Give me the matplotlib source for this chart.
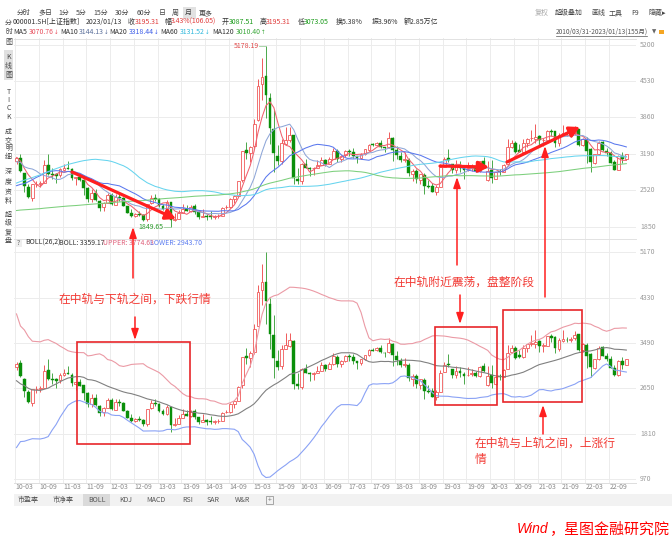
import numpy as np
import pandas as pd
import matplotlib
matplotlib.use('Agg')
import matplotlib.pyplot as plt
from matplotlib.patches import Rectangle, FancyArrowPatch
from matplotlib.transforms import blended_transform_factory as blend

plt.rcParams['font.family'] = ['Noto Sans CJK SC', 'DejaVu Sans']
plt.rcParams['axes.unicode_minus'] = False

# ---------------- data ----------------
# monthly closes before the window (2000-04 .. 2010-02), used only for MA / BOLL warm-up
hist_close = [
    1836, 1894, 1928, 2023, 2015, 1910, 1961, 2070, 2073,
    2066, 1959, 2112, 2120, 2214, 2218, 1920, 1834, 1659, 1690, 1747, 1646,
    1491, 1524, 1603, 1667, 1515, 1732, 1653, 1670, 1581, 1507, 1441, 1357,
    1499, 1511, 1511, 1521, 1576, 1487, 1476, 1421, 1367, 1349, 1397, 1497,
    1590, 1675, 1742, 1595, 1555, 1399, 1386, 1342, 1396, 1320, 1340, 1266,
    1191, 1306, 1181, 1159, 1060, 1080, 1083, 1162, 1155, 1092, 1099, 1161,
    1258, 1299, 1298, 1440, 1641, 1672, 1612, 1658, 1752, 1837, 2099, 2675,
    2786, 2881, 3183, 3841, 4109, 3821, 4471, 5218, 5552, 5954, 4871, 5262,
    4383, 4348, 3473, 3693, 3433, 2736, 2775, 2397, 2293, 1729, 1871, 1821,
    1991, 2082, 2373, 2477, 2633, 2959, 3412, 2668, 2779, 2996, 3195, 3277,
    2989, 3051,
]

# visible window 2010-03 .. 2023-01 (155 months)
opens = [
    3051, 3112, 2830, 2580, 2381, 2636, 2633, 2659, 2986, 2825,
    2825, 2798, 2898, 2933, 2906, 2738, 2764, 2703, 2564, 2360, 2469, 2327,
    2212, 2294, 2434, 2256, 2402, 2371, 2224, 2101, 2050, 2089, 2071, 1983,
    2289, 2385, 2366, 2236, 2171, 2300, 1973, 1994, 2100, 2179, 2136, 2222,
    2113, 2035, 2056, 2039, 2022, 2040, 2046, 2205, 2213, 2362, 2419, 2707,
    3258, 3213, 3332, 3810, 4480, 4629, 4215, 3643, 3158, 3062, 3380, 3442,
    3536, 2728, 2682, 3002, 2938, 2922, 2925, 2978, 3086, 3004, 3101, 3239,
    3105, 3164, 3243, 3227, 3148, 3116, 3192, 3266, 3363, 3361, 3395, 3310,
    3315, 3478, 3258, 3157, 3083, 3084, 2828, 2882, 2710, 2795, 2596, 2608,
    2497, 2588, 2954, 3109, 3005, 2901, 2977, 2922, 2896, 2924, 2931, 2875,
    3066, 2716, 2900, 2736, 2879, 2863, 3010, 3320, 3395, 3262, 3230, 3388,
    3475, 3463, 3519, 3441, 3438, 3612, 3604, 3387, 3532, 3553, 3545, 3576,
    3650, 3355, 3444, 3284, 3028, 3192, 3409, 3246, 3200, 3032, 2896, 3150,
    3087.51,
]
highs = [
    3141, 3181, 2835, 2627, 2639, 2690, 2700, 3074, 3186, 2939,
    2843, 2936, 3000, 3067, 2928, 2773, 2826, 2707, 2578, 2537, 2536, 2341,
    2300, 2478, 2478, 2456, 2453, 2393, 2240, 2182, 2107, 2133, 2090, 2276,
    2434, 2445, 2373, 2266, 2334, 2313, 2093, 2149, 2270, 2243, 2245, 2260,
    2113, 2177, 2087, 2146, 2062, 2080, 2218, 2248, 2370, 2433, 2693, 3239,
    3406, 3344, 3835, 4572, 4959, 5178.19, 4318, 4006, 3358, 3459, 3678, 3684,
    3539, 2934, 3019, 3097, 2955, 2949, 3070, 3141, 3096, 3134, 3301, 3271,
    3174, 3265, 3284, 3295, 3155, 3201, 3276, 3380, 3391, 3418, 3450, 3317,
    3587, 3495, 3334, 3220, 3219, 3115, 2915, 2916, 2827, 2839, 2703, 2652,
    2614, 2997, 3129, 3288, 3007, 3070, 3050, 2948, 3046, 3000, 2966, 3063,
    3127, 3058, 3074, 2863, 2914, 3002, 3458, 3451, 3425, 3365, 3455, 3474,
    3637, 3732, 3545, 3481, 3625, 3655, 3612, 3581, 3723, 3608, 3606, 3708,
    3651, 3490, 3492, 3296, 3194, 3425, 3425, 3297, 3249, 3086, 3178, 3226,
    3195.31,
]
lows = [
    2997, 2863, 2481, 2382, 2319, 2572, 2573, 2659, 2796, 2721,
    2661, 2757, 2870, 2909, 2702, 2610, 2691, 2437, 2307, 2307, 2320, 2134,
    2132, 2277, 2242, 2241, 2331, 2223, 2102, 2025, 2029, 2051, 1959, 1949,
    2264, 2327, 2215, 2161, 2165, 1849.65, 1951, 1991, 2096, 2131, 2118, 2086,
    1984, 2034, 1974, 1991, 1991, 2010, 2042, 2184, 2197, 2292, 2413, 2664,
    3095, 3049, 3292, 3803, 4190, 3848, 3373, 2850, 2983, 3012, 3372, 3412,
    2638, 2638, 2645, 2933, 2781, 2807, 2925, 2977, 2969, 3000, 3087, 3044,
    3045, 3137, 3153, 3108, 3016, 3089, 3176, 3240, 3336, 3340, 3299, 3228,
    3306, 3062, 3091, 3041, 3041, 2783, 2692, 2653, 2645, 2449, 2568, 2483,
    2441, 2585, 2952, 3049, 2837, 2833, 2860, 2733, 2874, 2880, 2859, 2858,
    2956, 2686, 2647, 2720, 2798, 2860, 3009, 3301, 3202, 3216, 3209, 3325,
    3436, 3392, 3329, 3328, 3428, 3517, 3313, 3343, 3517, 3515, 3500, 3546,
    3344, 3332, 3023, 2863, 3006, 3175, 3243, 3155, 3021, 2885, 2885, 3017,
    3073.05,
]
closes = [
    3109, 2870, 2592, 2398, 2638, 2638, 2656, 2979, 2820, 2808,
    2790, 2905, 2928, 2911, 2743, 2762, 2701, 2567, 2359, 2468, 2333, 2199,
    2293, 2428, 2262, 2397, 2373, 2225, 2103, 2047, 2086, 2069, 1980, 2269,
    2385, 2366, 2237, 2178, 2301, 1979, 1994, 2098, 2175, 2141, 2220, 2116,
    2033, 2056, 2033, 2026, 2039, 2048, 2202, 2217, 2364, 2420, 2683, 3235,
    3210, 3310, 3748, 4442, 4612, 4277, 3664, 3206, 3053, 3383, 3445, 3539,
    2738, 2688, 3004, 2938, 2917, 2930, 2979, 3085, 3005, 3100, 3250, 3104,
    3159, 3242, 3223, 3155, 3117, 3192, 3273, 3361, 3349, 3393, 3317, 3307,
    3481, 3259, 3169, 3082, 3095, 2847, 2876, 2725, 2821, 2603, 2588, 2494,
    2585, 2941, 3091, 3078, 2899, 2979, 2933, 2886, 2905, 2929, 2872, 3050,
    2977, 2880, 2750, 2860, 2852, 2985, 3310, 3396, 3218, 3225, 3392, 3473,
    3483, 3509, 3442, 3447, 3615, 3591, 3397, 3544, 3568, 3547, 3564, 3640,
    3361, 3462, 3252, 3047, 3186, 3399, 3253, 3202, 3024, 2893, 3151, 3089,
    3195.31,
]
tick_labels = ['10-03', '10-09', '11-03', '11-09', '12-03', '12-09', '13-03', '13-09',
               '14-03', '14-09', '15-03', '15-09', '16-03', '16-09', '17-03', '17-09',
               '18-03', '18-09', '19-03', '19-09', '20-03', '20-09', '21-03', '21-09',
               '22-03', '22-09']
tick_step = 6
top_ticks = [5200, 4530, 3860, 3190, 2520, 1850]
bot_ticks = [5170, 4330, 3490, 2650, 1810, 970]
ma_periods = [5, 10, 20, 60, 120]
ma_colors = ['#f0606e', '#8ea6d8', '#5a78ee', '#66d4ee', '#7ccf7c']
boll_period, boll_k = 26, 2

# ---------------- indicators ----------------
nh = len(hist_close)
all_close = pd.Series(hist_close + closes, dtype=float)
mas = {p: all_close.rolling(p).mean().values[nh:] for p in ma_periods}
mid = all_close.rolling(boll_period).mean().values[nh:]
sd = all_close.rolling(boll_period).std(ddof=0).values[nh:]
upper = mid + boll_k * sd
lower = mid - boll_k * sd

o = np.array(opens, float); h = np.array(highs, float)
l = np.array(lows, float); c = np.array(closes, float)
n = len(c)
idx = np.arange(n)

# ---------------- figure ----------------
W, H = 672, 539
fig = plt.figure(figsize=(W / 100, H / 100), dpi=100)
fig.patch.set_facecolor('white')

def fx(x): return x / W
def fy(y): return 1 - y / H

PXM = 3.96; X0 = 16.5; AXL, AXR = 14, 636
XLIM = ((AXL - X0) / PXM, (AXR - X0) / PXM)

ax1 = fig.add_axes([fx(AXL), fy(238), (AXR - AXL) / W, 200 / H])
ax2 = fig.add_axes([fx(AXL), fy(483), (AXR - AXL) / W, 245 / H])
ax1.set_ylim(1642, 5323)
ax2.set_ylim(896, 5435)

UP = '#f05a5a'; DN = '#0a8f0a'; DNW = '#4aa84a'
GRID = '#ececec'; LBL = '#9a9a9a'

def draw_candles(ax):
    up = c >= o
    ax.vlines(idx[up], l[up], h[up], color=UP, lw=0.7, zorder=3)
    ax.vlines(idx[~up], l[~up], h[~up], color=DNW, lw=0.7, zorder=3)
    bot = np.minimum(o, c)
    hgt = np.maximum(np.abs(c - o), 6)
    ax.bar(idx[up], hgt[up], bottom=bot[up], width=0.72, facecolor='white',
           edgecolor=UP, lw=0.6, zorder=4)
    ax.bar(idx[~up], hgt[~up], bottom=bot[~up], width=0.72, facecolor=DN,
           edgecolor=DN, lw=0.3, zorder=4)

for ax, ticks in ((ax1, top_ticks), (ax2, bot_ticks)):
    ax.set_xlim(*XLIM)
    ax.axis('off')
    for t in ticks:
        ax.axhline(t, color=GRID, lw=0.7, zorder=0)
        ax.text(1 + 4 / (AXR - AXL), t, str(t), transform=blend(ax.transAxes, ax.transData),
                ha='left', va='center', fontsize=5, color=LBL)
    for k in range(0, n, tick_step):
        ax.axvline(k - 0.38, color=GRID, lw=0.7, zorder=0)
    draw_candles(ax)

# MA lines
for p, col in zip(ma_periods, ma_colors):
    ax1.plot(idx, mas[p], color=col, lw=0.75, zorder=5)

# BOLL
ax2.plot(idx, upper, color='#eb9aa5', lw=0.8, zorder=5)
ax2.plot(idx, mid, color='#808080', lw=0.8, zorder=5)
ax2.plot(idx, lower, color='#8aa2f5', lw=0.8, zorder=5)

# extreme labels
imax = int(np.argmax(h)); imin = int(np.argmin(l))
ax1.plot([imax - 1.7, imax], [h[imax], h[imax]], color='#9ccf9c', lw=0.6, zorder=6)
ax1.text(imax - 1.9, h[imax], f'{h[imax]:.2f}', ha='right', va='center', fontsize=5, color='#e04848')
ax1.plot([imin - 1.7, imin], [l[imin], l[imin]], color='#9ccf9c', lw=0.6, zorder=6)
ax1.text(imin - 1.9, l[imin], f'{l[imin]:.2f}', ha='right', va='center', fontsize=5, color='#2a9a2a')

# x tick labels
for j, lab in enumerate(tick_labels):
    ax2.text(j * tick_step - 0.38 + 0.15, -4 / 245, lab, transform=blend(ax2.transData, ax2.transAxes),
             ha='left', va='center', fontsize=5, color='#8a8a8a')

# ---------------- overlay (UI + annotations) ----------------
ov = fig.add_axes([0, 0, 1, 1], zorder=10)
ov.set_xlim(0, W); ov.set_ylim(H, 0); ov.axis('off'); ov.patch.set_alpha(0)

def T(x, y, s, col='#333333', size=5, ha='left', **kw):
    ov.text(x, y, s, color=col, fontsize=size, ha=ha, va='center', **kw)

def box(x1, y1, x2, y2, fc, ec='none', lw=0, z=1):
    ov.add_patch(Rectangle((x1, y1), x2 - x1, y2 - y1, facecolor=fc, edgecolor=ec, lw=lw, zorder=z))

# panel borders
ov.plot([AXL, AXR], [38.5, 38.5], color='#e2e2e2', lw=0.7)
ov.plot([AXL, AXR], [238.5, 238.5], color='#e2e2e2', lw=0.7)
ov.plot([AXL, AXR], [483, 483], color='#dddddd', lw=0.7)

# top menu
box(183, 7, 196, 19, '#e2e2e2')
for s, x in [('分时', 17), ('多日', 38), ('1分', 58), ('5分', 76), ('15分', 93), ('30分', 115),
             ('60分', 137), ('日', 159), ('周', 172), ('月', 185), ('更多', 199)]:
    T(x, 13, s, '#444444')
T(535, 13, '复权', '#aaaaaa')
for s, x in [('超级叠加', 555), ('画线', 591), ('工具', 609), ('F9', 631), ('隐藏▸', 648)]:
    T(x, 13, s, '#444444')

# info line
RED = '#e03c3c'; GRN = '#1a9a1a'
for s, x, col in [('000001.SH[上证指数]', 13, '#333333'), ('2023/01/13', 86, '#333333'),
                  ('收', 128, '#333333'), ('3195.31', 135, RED),
                  ('幅', 165, '#333333'), ('3.43%(106.05)', 171, RED),
                  ('开', 222, '#333333'), ('3087.51', 229, GRN),
                  ('高', 260, '#333333'), ('3195.31', 266, RED),
                  ('低', 298, '#333333'), ('3073.05', 304, GRN),
                  ('换5.38%', 336, '#333333'), ('振3.96%', 372, '#333333'),
                  ('额2.85万亿', 404, '#333333')]:
    T(x, 22, s, col)

# MA line (value + small trend arrow)
for s, x, col in [('MA5', 13, '#333333'), ('MA10', 60, '#333333'), ('MA20', 109, '#333333'),
                  ('MA60', 160, '#333333'), ('MA120', 212, '#333333')]:
    T(x, 32, s, col)
for s, arr, x, col in [('3070.76', '↓', 29, '#e8505e'), ('3144.13', '↓', 79, '#5a6f9a'),
                       ('3318.44', '↓', 129, '#3e5ee8'), ('3131.52', '↓', 180, '#2fb8dc'),
                       ('3010.40', '↑', 236, '#3aa83a')]:
    T(x, 32, s, col)
    T(x + 25, 32, arr, col, size=4, family='DejaVu Sans')
T(556, 32, '2010/03/31-2023/01/13(155月)', '#555555', size=4.7)
ov.plot([556, 647], [35.5, 35.5], color='#555555', lw=0.5)
T(652, 32, '▼', '#666666', size=4, family='DejaVu Sans')
box(659, 30, 664, 34, '#f5a623')

# left sidebar
box(4, 50, 13, 80, '#e0e0e0')
for s, y in [('分', 23), ('时', 32), ('图', 42), ('K', 57), ('线', 66), ('图', 75),
             ('T', 92), ('I', 100), ('C', 108), ('K', 117),
             ('成', 132), ('交', 140), ('明', 148), ('细', 157),
             ('深', 172), ('度', 182), ('资', 192), ('料', 201),
             ('超', 215), ('级', 223), ('复', 232), ('盘', 241)]:
    T(8.5, y, s, '#444444', ha='center')

# BOLL header row
box(15, 239.5, 22, 247, '#eeeeee')
T(18.5, 243, '?', '#666666', ha='center')
T(25, 243, 'BOLL(26,2)', '#333333')
T(59, 243, 'BOLL: 3359.17', '#333333')
T(103, 243, 'UPPER: 3774.63', '#e0607a')
T(150, 243, 'LOWER: 2943.70', '#5b7cf0')

# bottom tab bar
box(14, 494, W, 506, '#f2f2f2')
box(83, 494, 110, 506, '#dadada')
for s, x in [('市盈率', 18), ('市净率', 53), ('BOLL', 88), ('KDJ', 119), ('MACD', 146),
             ('RSI', 182), ('SAR', 207), ('W&R', 235)]:
    T(x, 500, s, '#555555')
box(266, 496, 273, 504, 'none', ec='#888888', lw=0.5, z=2)
T(269.5, 500, '+', '#777777', ha='center', size=5)

# annotations
ARED = '#ff1f1f'
def arrow(x1, y1, x2, y2, lw, hl, hw):
    ov.add_patch(FancyArrowPatch((x1, y1), (x2, y2),
                                 arrowstyle=f'-|>,head_length={hl},head_width={hw}',
                                 mutation_scale=10, color=ARED, lw=lw,
                                 shrinkA=0, shrinkB=0, zorder=20))

arrow(72, 172, 176, 219, 2.3, 0.6, 0.32)
arrow(440, 166, 489, 167, 2.3, 0.6, 0.32)
arrow(507, 162, 580, 127, 2.3, 0.6, 0.32)
arrow(133, 278, 133, 227, 1.1, 0.65, 0.22)
arrow(457, 265, 457, 177, 1.1, 0.65, 0.22)
arrow(545, 297, 545, 146, 1.1, 0.65, 0.22)
arrow(135, 317, 135, 340, 1.1, 0.65, 0.22)
arrow(460, 295, 460, 324, 1.1, 0.65, 0.22)
arrow(543, 434, 543, 405, 1.1, 0.65, 0.22)

for x1, y1, x2, y2 in [(77, 342, 190, 444), (435, 327, 497, 405), (503, 310, 582, 402)]:
    ov.add_patch(Rectangle((x1, y1), x2 - x1, y2 - y1, facecolor='none',
                           edgecolor='#e8262a', lw=1.2, zorder=20))

TRED = '#f23b35'
T(135, 299, '在中轨与下轨之间，下跌行情', TRED, size=8.5, ha='center')
T(464, 282, '在中轨附近震荡，盘整阶段', TRED, size=8.5, ha='center')
T(475, 443, '在中轨与上轨之间，上涨行', TRED, size=8.5)
T(475, 459, '情', TRED, size=8.5)

# watermark
ov.text(669, 529, '，星图金融研究院', color='#ff0000', fontsize=10.8, ha='right', va='center')
ov.text(548, 529, 'Wind', color='#ff0000', fontsize=10, ha='right', va='center',
        family='Liberation Sans', style='italic')

fig.savefig('out.png', dpi=100, facecolor='white')
